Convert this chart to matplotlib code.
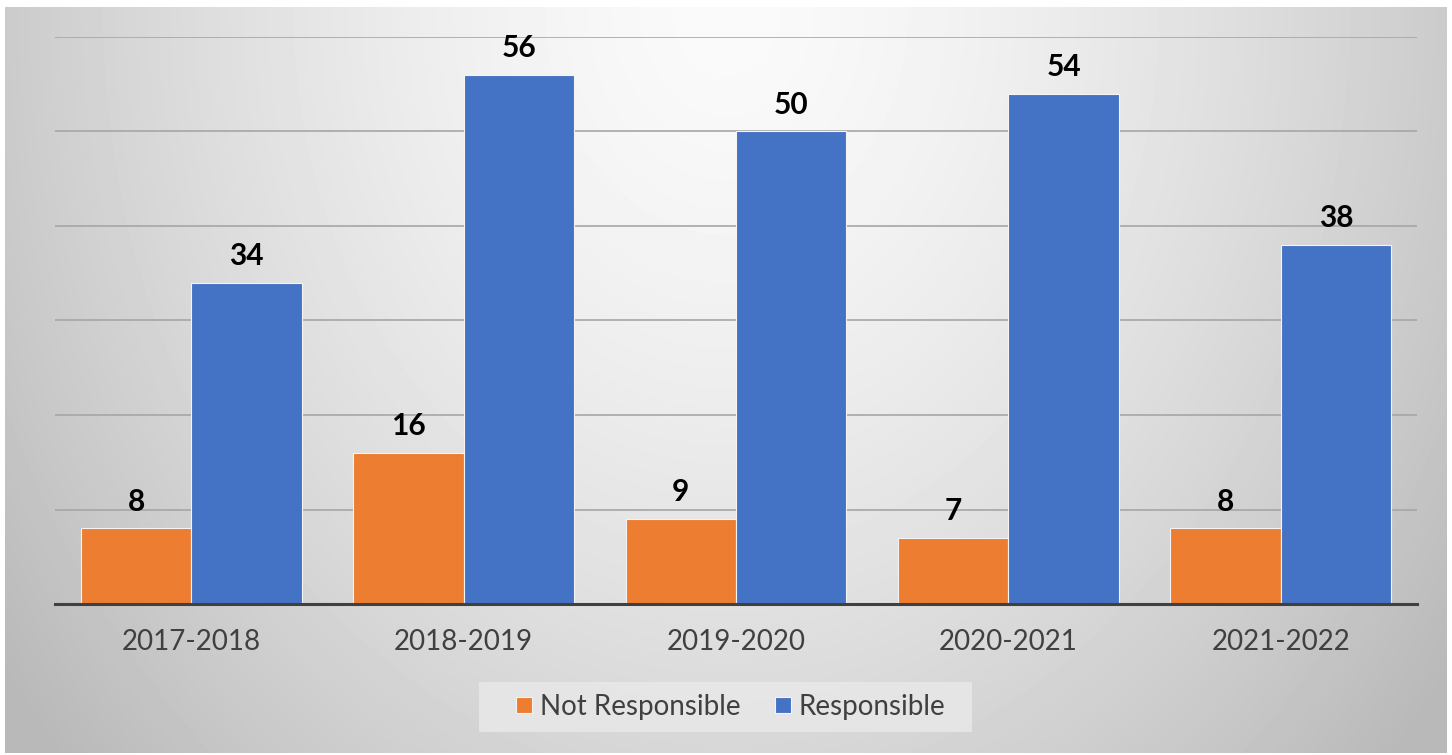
import matplotlib.pyplot as plt
import numpy as np
from matplotlib.lines import Line2D
from matplotlib.patches import Rectangle

plt.rcParams['font.family'] = ['Lato', 'DejaVu Sans']

years = ["2017-2018", "2018-2019", "2019-2020", "2020-2021", "2021-2022"]
not_responsible = [8, 16, 9, 7, 8]
responsible = [34, 56, 50, 54, 38]

orange = "#ED7D31"
blue = "#4472C4"

W, H = 1452, 755
fig = plt.figure(figsize=(W / 100, H / 100), dpi=100)

# gray radial backdrop, light at the top middle
bg = fig.add_axes([5 / W, 2 / H, 1442 / W, 746 / H], zorder=-10)
yy, xx = np.mgrid[0:746, 0:1442]
d = np.sqrt(((xx - 721) / 800.0) ** 2 + ((yy - 0) / 1000.0) ** 2)
shade = np.clip(250 - 55 * d ** 1.5, 185, 250) / 255.0
bg.imshow(shade, cmap="gray", vmin=0, vmax=1, aspect="auto", interpolation="bilinear")
bg.axis("off")

ax = fig.add_axes([55 / W, (H - 604) / H, 1362 / W, 567 / H])
ax.patch.set_alpha(0)

x = np.arange(len(years))
w = 0.405
b1 = ax.bar(x - w / 2, not_responsible, w, color=orange, edgecolor="#f4f4f4", linewidth=0.8, zorder=3)
b2 = ax.bar(x + w / 2, responsible, w, color=blue, edgecolor="#f4f4f4", linewidth=0.8, zorder=3)

for bars, vals in ((b1, not_responsible), (b2, responsible)):
    for r, v in zip(bars, vals):
        ax.annotate(str(v), (r.get_x() + r.get_width() / 2, v), textcoords="offset points",
                    xytext=(0, 9), ha="center", va="bottom", fontsize=21.5, fontweight="bold",
                    color="black")

ax.set_xlim(-0.5, len(years) - 0.5)
ax.set_ylim(0, 60)
ax.set_yticks(range(0, 61, 10))
ax.yaxis.grid(True, color="#a6a6a6", linewidth=1.2, zorder=0)
ax.set_axisbelow(True)
ax.tick_params(axis="y", left=False, labelleft=False)
ax.set_xticks(x)
ax.set_xticklabels(years, fontsize=20, color="#404040")
ax.tick_params(axis="x", length=0, pad=18)
for s in ("top", "right", "left"):
    ax.spines[s].set_visible(False)
ax.spines["bottom"].set_color("#404040")
ax.spines["bottom"].set_linewidth(2.2)
ax.spines["bottom"].set_zorder(4)

# legend box drawn separately so its padding matches
fig.patches.append(Rectangle((479 / W, (H - 732) / H), 493 / W, 50 / H, transform=fig.transFigure,
                             facecolor="#e8e8e8", edgecolor="none", alpha=0.85, zorder=0))
handles = [Line2D([], [], marker="s", linestyle="none", markersize=11.5, color=orange,
                  markeredgecolor="#f4f4f4", markeredgewidth=0.8, label="Not Responsible"),
           Line2D([], [], marker="s", linestyle="none", markersize=11.5, color=blue,
                  markeredgecolor="#f4f4f4", markeredgewidth=0.8, label="Responsible")]
leg = fig.legend(handles=handles, loc="center", bbox_to_anchor=(730 / W, (H - 707) / H),
                 ncol=2, fontsize=20, frameon=False, handlelength=0.7,
                 handletextpad=0.2, columnspacing=1.2)
for t in leg.get_texts():
    t.set_color("#404040")

fig.savefig("out.png", dpi=100, facecolor="white")
